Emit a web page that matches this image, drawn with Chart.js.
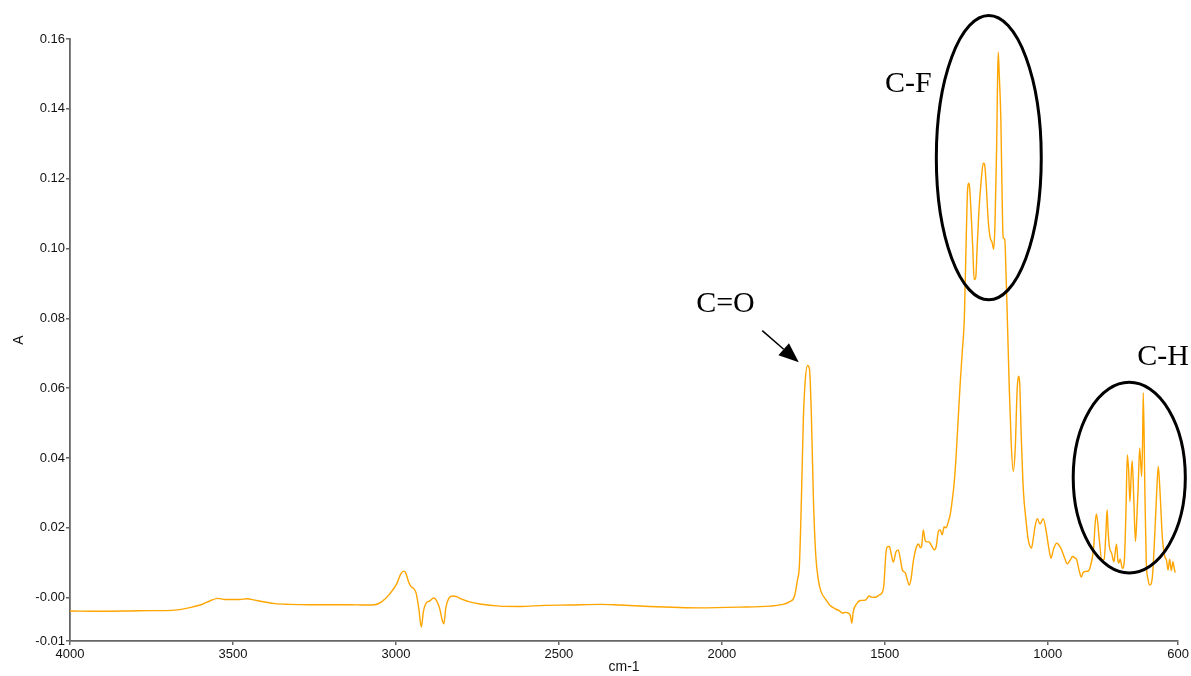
<!DOCTYPE html>
<html>
<head>
<meta charset="utf-8">
<title>FTIR spectrum</title>
<script src="https://cdn.jsdelivr.net/npm/chart.js@4.4.1/dist/chart.umd.min.js"></script>
<style>
  html, body { margin: 0; padding: 0; background: #ffffff; }
  #wrap { width: 1191px; height: 676px; }
</style>
</head>
<body>
<div id="wrap"><canvas id="spectrum" width="1191" height="676"></canvas></div>
<script>
// Wavenumber (cm-1) sample positions of the absorbance trace
const wavenumbers = [
  4000, 3908, 3816, 3755, 3709, 3663, 3626, 3592, 3568, 3546, 3525, 3503, 3479, 3457, 3433, 3411,
  3372, 3326, 3264, 3203, 3142, 3096, 3065, 3044, 3019, 2998, 2985, 2976, 2970, 2961, 2953, 2945,
  2938, 2930, 2922, 2916, 2909, 2896, 2884, 2875, 2866, 2858, 2853, 2847, 2838, 2826, 2814, 2798,
  2774, 2743, 2682, 2620, 2544, 2467, 2375, 2314, 2222, 2130, 2069, 1946, 1854, 1817, 1793, 1777,
  1768, 1762, 1756, 1750, 1744, 1737, 1731, 1725, 1719, 1712, 1704, 1695, 1682, 1670, 1652, 1640,
  1630, 1621, 1612, 1606, 1601, 1597, 1587, 1575, 1560, 1548, 1539, 1526, 1517, 1511, 1503, 1497,
  1493, 1486, 1480, 1474, 1466, 1459, 1453, 1446, 1437, 1431, 1425, 1419, 1413, 1403, 1397, 1391,
  1387, 1382, 1376, 1370, 1364, 1358, 1348, 1342, 1336, 1330, 1324, 1318, 1312, 1306, 1299, 1293,
  1287, 1281, 1275, 1269, 1262, 1256, 1250, 1246, 1243, 1240, 1235, 1230, 1226, 1221, 1217, 1211,
  1204, 1198, 1194, 1189, 1183, 1177, 1171, 1166, 1162, 1157, 1154, 1152, 1149, 1144, 1140, 1137,
  1132, 1128, 1124, 1118, 1112, 1106, 1100, 1094, 1090, 1086, 1082, 1075, 1067, 1060, 1050, 1045,
  1039, 1032, 1024, 1014, 1004, 997, 990, 983, 973, 960, 950, 940, 931, 924, 917, 911,
  904, 897, 892, 885, 875, 866, 859, 855, 851, 847, 842, 834, 827, 822, 818, 815,
  811, 804, 797, 793, 789, 785, 782, 778, 771, 765, 760, 756, 752, 748, 744, 741,
  736, 731, 727, 723, 718, 712, 709, 707, 702, 698, 692, 687, 679, 673, 666, 661,
  656, 648, 641, 636, 631, 626, 621, 616, 612, 609
];

// Absorbance (A) at each wavenumber above
const absorbance = [
  -0.0038, -0.0039, -0.0038, -0.0037, -0.0037, -0.0034, -0.0027, -0.0018, -0.0008, -0.0002, -0.0005, -0.0005, -0.0005, -0.0003, -0.0007, -0.0011,
  -0.0017, -0.0019, -0.0020, -0.0020, -0.0020, -0.0021, -0.0020, -0.0012, 0.0011, 0.0039, 0.0068, 0.0076, 0.0071, 0.0045, 0.0031, 0.0026,
  0.0013, -0.0030, -0.0084, -0.0041, -0.0018, -0.0009, -0.0001, -0.0009, -0.0030, -0.0064, -0.0075, -0.0030, -0.0002, 0.0005, 0.0003, -0.0004,
  -0.0012, -0.0018, -0.0024, -0.0025, -0.0022, -0.0021, -0.0019, -0.0021, -0.0025, -0.0028, -0.0029, -0.0027, -0.0024, -0.0020, -0.0012, 0.0005,
  0.0051, 0.0094, 0.0280, 0.0510, 0.0624, 0.0665, 0.0654, 0.0510, 0.0280, 0.0123, 0.0051, 0.0016, -0.0004, -0.0020, -0.0032, -0.0037,
  -0.0044, -0.0042, -0.0044, -0.0050, -0.0073, -0.0041, -0.0018, -0.0008, -0.0007, 0.0005, 0.0001, 0.0002, 0.0008, 0.0011, 0.0036, 0.0123,
  0.0145, 0.0147, 0.0123, 0.0102, 0.0131, 0.0137, 0.0114, 0.0079, 0.0071, 0.0051, 0.0036, 0.0057, 0.0102, 0.0145, 0.0154, 0.0143,
  0.0148, 0.0194, 0.0163, 0.0160, 0.0160, 0.0151, 0.0137, 0.0148, 0.0189, 0.0194, 0.0180, 0.0203, 0.0200, 0.0215, 0.0240, 0.0280,
  0.0330, 0.0410, 0.0510, 0.0610, 0.0710, 0.0800, 0.1040, 0.1170, 0.1187, 0.1176, 0.1098, 0.0998, 0.0911, 0.0917, 0.0998, 0.1112,
  0.1198, 0.1244, 0.1241, 0.1184, 0.1084, 0.1032, 0.1018, 0.0998, 0.1069, 0.1285, 0.1486, 0.1562, 0.1500, 0.1371, 0.1141, 0.1032,
  0.1026, 0.0926, 0.0797, 0.0596, 0.0438, 0.0362, 0.0424, 0.0596, 0.0634, 0.0610, 0.0481, 0.0309, 0.0223, 0.0166, 0.0142, 0.0166,
  0.0204, 0.0226, 0.0211, 0.0226, 0.0185, 0.0143, 0.0113, 0.0137, 0.0156, 0.0142, 0.0118, 0.0097, 0.0108, 0.0118, 0.0114, 0.0108,
  0.0079, 0.0059, 0.0071, 0.0075, 0.0077, 0.0103, 0.0146, 0.0209, 0.0240, 0.0217, 0.0166, 0.0108, 0.0110, 0.0180, 0.0252, 0.0194,
  0.0146, 0.0127, 0.0103, 0.0131, 0.0153, 0.0108, 0.0099, 0.0110, 0.0084, 0.0108, 0.0252, 0.0409, 0.0366, 0.0275, 0.0352, 0.0392,
  0.0280, 0.0161, 0.0223, 0.0309, 0.0429, 0.0347, 0.0453, 0.0587, 0.0300, 0.0108, 0.0051, 0.0036, 0.0060, 0.0156, 0.0300, 0.0376,
  0.0309, 0.0166, 0.0118, 0.0108, 0.0079, 0.0110, 0.0077, 0.0103, 0.0084, 0.0072
];

// Axis ticks
const xTickValues = [4000, 3500, 3000, 2500, 2000, 1500, 1000, 600];
const yTickValues = [-0.0124, 0, 0.02, 0.04, 0.06, 0.08, 0.10, 0.12, 0.14, 0.16];
const yTickLabels = ['-0.01', '-0.00', '0.02', '0.04', '0.06', '0.08', '0.10', '0.12', '0.14', '0.16'];

// Band annotations, in data units (wavenumber, absorbance)
const bandLabels = [
  { text: 'C=O', x: 1989, y: 0.0840 },
  { text: 'C-F', x: 1428, y: 0.1471 },
  { text: 'C-H', x: 646, y: 0.0688 }
];
const bandEllipses = [
  { cx: 1181, cy: 0.1260, rx: 161, ry: 0.0407 },
  { cx: 750, cy: 0.0344, rx: 172, ry: 0.0273 }
];
const carbonylArrow = { x0: 1876, y0: 0.0765, x1: 1764, y1: 0.0674 };

const points = wavenumbers.map((w, i) => ({ x: w, y: absorbance[i] }));

const annotationPlugin = {
  id: 'bandAnnotations',
  afterDatasetsDraw(chart) {
    const { ctx, scales: { x, y } } = chart;
    ctx.save();
    ctx.strokeStyle = '#000';
    ctx.fillStyle = '#000';

    // ellipses around band groups
    ctx.lineWidth = 3;
    bandEllipses.forEach(e => {
      const cx = x.getPixelForValue(e.cx);
      const cy = y.getPixelForValue(e.cy);
      const rx = Math.abs(x.getPixelForValue(e.cx + e.rx) - cx);
      const ry = Math.abs(y.getPixelForValue(e.cy + e.ry) - cy);
      ctx.beginPath();
      ctx.ellipse(cx, cy, rx, ry, 0, 0, Math.PI * 2);
      ctx.stroke();
    });

    // arrow pointing at the carbonyl band
    const ax0 = x.getPixelForValue(carbonylArrow.x0);
    const ay0 = y.getPixelForValue(carbonylArrow.y0);
    const ax1 = x.getPixelForValue(carbonylArrow.x1);
    const ay1 = y.getPixelForValue(carbonylArrow.y1);
    const ang = Math.atan2(ay1 - ay0, ax1 - ax0);
    const headLen = 20, headHalf = 8;
    const bx = ax1 - headLen * Math.cos(ang);
    const by = ay1 - headLen * Math.sin(ang);
    ctx.lineWidth = 1.5;
    ctx.beginPath();
    ctx.moveTo(ax0, ay0);
    ctx.lineTo(bx, by);
    ctx.stroke();
    ctx.beginPath();
    ctx.moveTo(ax1, ay1);
    ctx.lineTo(bx + headHalf * Math.sin(ang), by - headHalf * Math.cos(ang));
    ctx.lineTo(bx - headHalf * Math.sin(ang), by + headHalf * Math.cos(ang));
    ctx.closePath();
    ctx.fill();

    // band labels
    ctx.font = '30px "Liberation Serif", "Times New Roman", serif';
    ctx.textAlign = 'center';
    ctx.textBaseline = 'middle';
    bandLabels.forEach(l => {
      ctx.fillText(l.text, x.getPixelForValue(l.x), y.getPixelForValue(l.y));
    });
    ctx.restore();
  }
};

const axisColor = '#666666';
const tickFont = { family: '"Liberation Sans", Arial, sans-serif', size: 13 };

new Chart(document.getElementById('spectrum'), {
  type: 'line',
  data: {
    datasets: [{
      data: points,
      borderColor: '#FFA500',
      borderWidth: 1.4,
      pointRadius: 0,
      fill: false,
      cubicInterpolationMode: 'monotone'
    }]
  },
  options: {
    responsive: false,
    animation: false,
    layout: { padding: { left: 0, top: 39, right: 12, bottom: 0 } },
    plugins: { legend: { display: false }, tooltip: { enabled: false } },
    scales: {
      x: {
        type: 'linear',
        reverse: true,
        min: 600,
        max: 4000,
        afterBuildTicks: scale => { scale.ticks = xTickValues.map(v => ({ value: v })); },
        afterFit: scale => { scale.height = 35; },
        ticks: {
          autoSkip: false, maxRotation: 0, padding: 2, color: '#111', font: tickFont,
          callback: v => String(v)
        },
        grid: { drawOnChartArea: false, drawTicks: true, tickLength: 4, color: axisColor, lineWidth: 1.5 },
        border: { color: axisColor, width: 1.8 },
        title: { display: true, text: 'cm-1', color: '#111', padding: { top: 0, bottom: 0 },
                 font: { family: '"Liberation Sans", Arial, sans-serif', size: 14 } }
      },
      y: {
        type: 'linear',
        min: -0.0124,
        max: 0.16,
        afterBuildTicks: scale => { scale.ticks = yTickValues.map(v => ({ value: v })); },
        afterFit: scale => { scale.width = 70; },
        ticks: {
          autoSkip: false, padding: 1, color: '#111', font: tickFont,
          callback: (v, i) => yTickLabels[i]
        },
        grid: { drawOnChartArea: false, drawTicks: true, tickLength: 4, color: axisColor, lineWidth: 1.5 },
        border: { color: axisColor, width: 1.8 },
        title: { display: true, text: 'A', color: '#111', padding: { top: 11, bottom: 0 },
                 font: { family: '"Liberation Sans", Arial, sans-serif', size: 14 } }
      }
    }
  },
  plugins: [annotationPlugin]
});
</script>
</body>
</html>
